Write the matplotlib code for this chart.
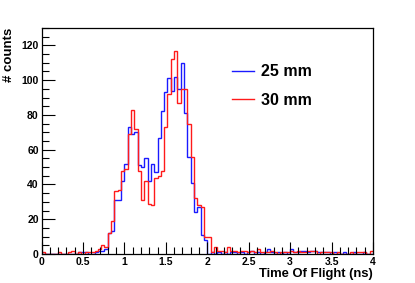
import numpy as np
import matplotlib
matplotlib.use("Agg")
import matplotlib.pyplot as plt
from matplotlib.ticker import MultipleLocator

# 100 bins of 0.04 ns from 0 to 4 ns
bin_edges = np.linspace(0, 4, 101)

blue_25mm = [
    # 0.00 - 0.56
    0, 0, 0, 0, 0, 0, 0, 0, 0, 0, 0, 1, 1, 1, 0,
    # 0.60 - 0.96
    0, 1, 2, 2, 3, 12, 13, 31, 31, 42,
    # 1.00 - 1.96
    52, 73, 69, 70, 51, 50, 55, 42, 52, 47,
    67, 82, 93, 101, 94, 102, 95, 110, 81, 56,
    41, 24, 27, 11, 8,
    # 2.00 - 3.96
    0, 1, 0, 1, 0, 1, 0, 1, 1, 0,
    1, 0, 1, 2, 0, 1, 0, 1, 3, 1,
    0, 1, 0, 1, 0, 3, 1, 1, 2, 2,
    1, 2, 2, 1, 1, 1, 1, 0, 1, 0,
    0, 1, 0, 0, 1, 0, 0, 1, 0, 0,
]

red_30mm = [
    # 0.00 - 0.56
    1, 0, 0, 0, 0, 1, 0, 0, 1, 2, 0, 1, 0, 1, 1,
    # 0.60 - 0.96
    1, 2, 3, 5, 4, 12, 19, 36, 37, 48,
    # 1.00 - 1.96
    49, 69, 83, 72, 48, 31, 42, 29, 28, 44,
    45, 48, 73, 92, 112, 117, 87, 95, 95, 75,
    56, 32, 28, 27, 10,
    # 2.00 - 3.96
    10, 1, 4, 2, 2, 1, 4, 2, 2, 1,
    2, 2, 1, 2, 1, 3, 1, 1, 1, 2,
    1, 0, 1, 1, 1, 2, 1, 2, 1, 1,
    2, 2, 2, 0, 1, 1, 1, 1, 0, 1,
    0, 0, 0, 1, 0, 1, 1, 1, 0, 2,
]

series_labels = ["25 mm", "30 mm"]
x_label = "Time Of Flight (ns)"
y_label = "# counts"
x_ticks = [0, 0.5, 1, 1.5, 2, 2.5, 3, 3.5, 4]
x_ticklabels = ["0", "0.5", "1", "1.5", "2", "2.5", "3", "3.5", "4"]

plt.rcParams['font.family'] = ['Liberation Sans', 'DejaVu Sans']
plt.rcParams['font.weight'] = 'bold'

W, H = 415, 283
fig = plt.figure(figsize=(W / 100, H / 100), dpi=100)
ax = fig.add_axes([41.5 / W, 29 / H, (373 - 41.5) / W, (254 - 28) / H])

ax.stairs(blue_25mm, bin_edges, color='#1a1aff', lw=1.0, baseline=None, label=series_labels[0])
ax.stairs(red_30mm, bin_edges, color='#ff1a1a', lw=1.0, baseline=None, label=series_labels[1])

ax.set_xlim(0, 4)
ax.set_ylim(0, 130)
ax.set_xticks(x_ticks)
ax.set_xticklabels(x_ticklabels)
ax.xaxis.set_minor_locator(MultipleLocator(0.1))
ax.yaxis.set_major_locator(MultipleLocator(20))
ax.yaxis.set_minor_locator(MultipleLocator(5))

ax.tick_params(which='both', direction='in', top=False, right=False,
               width=0.8, color='black')
ax.tick_params(which='major', length=9, labelsize=7.5, pad=2)
ax.tick_params(which='minor', length=5)
for lbl in ax.get_xticklabels() + ax.get_yticklabels():
    lbl.set_fontweight('bold')

for s in ax.spines.values():
    s.set_linewidth(0.9)
    s.set_color('black')

ax.set_xlabel(x_label, fontsize=9.4, fontweight='bold', loc='right', labelpad=1)
fig.text(8.5 / W, 1 - 28 / H, y_label, rotation=90, ha='center', va='top',
         fontsize=9.5, fontweight='bold')

leg = ax.legend(loc='upper left', bbox_to_anchor=((226 - 41.5) / (373 - 41.5), (254 - 58) / 226),
                frameon=False, prop={'size': 11.5, 'weight': 'bold'},
                handlelength=1.35, handletextpad=0.45, labelspacing=0.85, borderaxespad=0)

fig.savefig("out.png", dpi=100)
